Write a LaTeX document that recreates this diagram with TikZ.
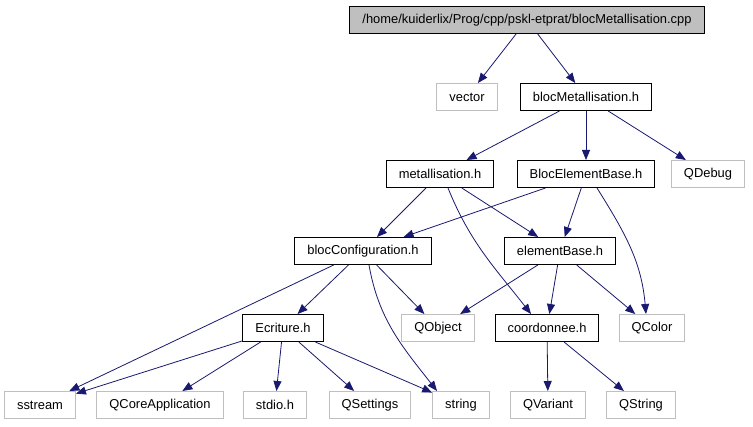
\documentclass[tikz,border=0pt]{standalone}
\usepackage{fontspec}
\setmainfont{Liberation Sans}
\usetikzlibrary{arrows.meta}
\definecolor{ec}{RGB}{25,25,112}
\definecolor{gc}{RGB}{191,191,191}
\tikzset{f/.style={draw,line width=1pt,minimum height=27pt,inner xsep=12.5pt,inner ysep=0pt,fill=white},
 sys/.style={f,draw=gc},
 top/.style={f,fill=gc},
 dep/.style={draw=ec,line width=.8pt,-{Triangle[length=10pt,width=8pt]}},
 every node/.style={font=\fontsize{12.9}{14}\selectfont}}
\begin{document}
\begin{tikzpicture}[x=1pt,y=-1pt]
\useasboundingbox[fill=white] (0,0) rectangle (753,427);
\node[top] (root) at (527,20) {/home/kuiderlix/Prog/cpp/pskl-etprat/blocMetallisation.cpp};
\node[sys] (vec) at (467,97) {vector};
\node[f] (bm) at (586,97) {blocMetallisation.h};
\node[f] (met) at (440,174) {metallisation.h};
\node[f] (beb) at (586,174) {BlocElementBase.h};
\node[sys] (qdbg) at (708,174) {QDebug};
\node[f] (bconf) at (363,251) {blocConfiguration.h};
\node[f] (eb) at (560,251) {elementBase.h};
\node[f] (ecr) at (283,328) {Ecriture.h};
\node[sys] (qobj) at (438,328) {QObject};
\node[f] (coord) at (547,328) {coordonnee.h};
\node[sys] (qcol) at (652,328) {QColor};
\node[sys] (sst) at (40,405) {sstream};
\node[sys] (qca) at (160,405) {QCoreApplication};
\node[sys] (stdio) at (275,405) {stdio.h};
\node[sys] (qset) at (370,405) {QSettings};
\node[sys] (str) at (461,405) {string};
\node[sys] (qvar) at (548,405) {QVariant};
\node[sys] (qstr) at (641,405) {QString};
% edges
\draw[dep] (root)--(vec);
\draw[dep] (root)--(bm);
\draw[dep] (bm)--(met);
\draw[dep] (bm)--(beb);
\draw[dep] (bm)--(qdbg);
\draw[dep] (met)--(bconf);
\draw[dep] (met)--(eb);
\draw[dep] ([xshift=8pt]met.south) to[out=-68,in=128] ([xshift=-16pt]coord.north);
\draw[dep] (beb)--(bconf);
\draw[dep] (beb)--(eb);
\draw[dep] ([xshift=11pt]beb.south) to[out=-58,in=95] ([xshift=-6pt]qcol.north);
\draw[dep] (bconf)--(ecr);
\draw[dep] (bconf)--(sst);
\draw[dep] (bconf)--(qobj);
\draw[dep] ([xshift=6pt]bconf.south) to[out=-80,in=128] ([xshift=-24pt]str.north);
\draw[dep] (eb)--(qobj);
\draw[dep] (eb)--(coord);
\draw[dep] (eb)--(qcol);
\draw[dep] (ecr)--(sst);
\draw[dep] (ecr)--(qca);
\draw[dep] (ecr)--(stdio);
\draw[dep] (ecr)--(qset);
\draw[dep] (ecr)--(str);
\draw[dep] (coord)--(qvar);
\draw[dep] (coord)--(qstr);
\end{tikzpicture}
\end{document}
